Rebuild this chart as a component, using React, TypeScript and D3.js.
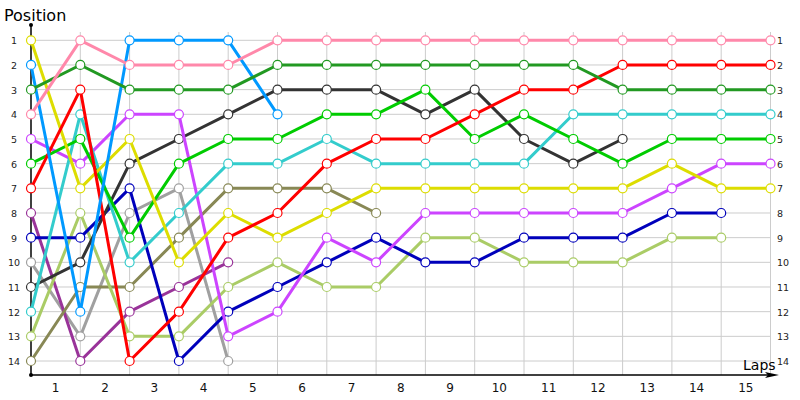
import * as d3 from "d3";
import React from "react";

// lap columns: 0 = grid, 1..15 = after each lap
const laps = d3.range(1, 16);
const positions = d3.range(1, 15);

const pink = [4, 1, 2, 2, 2, 1, 1, 1, 1, 1, 1, 1, 1, 1, 1, 1];
const darkGreen = [3, 2, 3, 3, 3, 2, 2, 2, 2, 2, 2, 2, 3, 3, 3, 3];
const lightBlue = [2, 12, 1, 1, 1, 4];
const yellow = [1, 7, 5, 10, 8, 9, 8, 7, 7, 7, 7, 7, 7, 6, 7, 7];
const red = [7, 3, 14, 12, 9, 8, 6, 5, 5, 4, 3, 3, 2, 2, 2, 2];
const cyan = [12, 4, 10, 8, 6, 6, 5, 6, 6, 6, 6, 4, 4, 4, 4, 4];
const green = [6, 5, 9, 6, 5, 5, 4, 4, 3, 5, 4, 5, 6, 5, 5, 5];
const violet = [5, 6, 4, 4, 13, 12, 9, 10, 8, 8, 8, 8, 8, 7, 6, 6];
const charcoal = [11, 10, 6, 5, 4, 3, 3, 3, 4, 3, 5, 6, 5];
const navy = [9, 9, 7, 14, 12, 11, 10, 9, 10, 10, 9, 9, 9, 8, 8];
const olive = [14, 11, 11, 9, 7, 7, 7, 8];
const lime = [13, 8, 13, 13, 11, 10, 11, 11, 9, 9, 10, 10, 10, 9, 9];
const grey = [10, 13, 8, 7, 14];
const plum = [8, 14, 12, 11, 10];

const series = [
  { values: grey, color: "#a0a0a0" },
  { values: plum, color: "#993399" },
  { values: olive, color: "#888855" },
  { values: lime, color: "#aacc66" },
  { values: navy, color: "#0000bb" },
  { values: charcoal, color: "#333333" },
  { values: violet, color: "#cc44ff" },
  { values: cyan, color: "#33cccc" },
  { values: green, color: "#00cc00" },
  { values: yellow, color: "#dddd00" },
  { values: red, color: "#ff0000" },
  { values: lightBlue, color: "#0099ff" },
  { values: darkGreen, color: "#229922" },
  { values: pink, color: "#ff88aa" },
];

const W = 800;
const H = 400;
const left = 31;
const right = 770.5;
const top = 40.3;
const bottom = 361;
const axisY = 375;

export default function App() {
  const x = d3.scaleLinear().domain([0, 15]).range([left, right]);
  const y = d3.scaleLinear().domain([1, 14]).range([top, bottom]);
  const line = d3
    .line<number>()
    .x((_, i) => x(i))
    .y((d) => y(d));

  const font = "'DejaVu Sans', Verdana, sans-serif";

  return (
    <div style={{ position: "fixed", left: 0, top: 0 }}>
      <svg width={W} height={H} style={{ display: "block", background: "#fff" }}>
        {/* grid */}
        {positions.map((p) => (
          <line key={"h" + p} x1={left} x2={right} y1={y(p)} y2={y(p)} stroke="#cccccc" />
        ))}
        {laps.map((l) => (
          <line key={"v" + l} x1={x(l)} x2={x(l)} y1={32} y2={axisY} stroke="#cccccc" />
        ))}

        {/* axes */}
        <line x1={left} x2={left} y1={25} y2={axisY} stroke="#000" strokeWidth={1.5} />
        <circle cx={left} cy={25} r={2} fill="#000" />
        <circle cx={left} cy={axisY} r={2} fill="#000" />
        <line x1={left} x2={770} y1={axisY} y2={axisY} stroke="#000" strokeWidth={1.5} />
        <path d={`M765,${axisY - 3} L779,${axisY} L765,${axisY + 3} L768,${axisY} Z`} fill="#000" />

        {/* labels */}
        <text x={4} y={21} fontFamily={font} fontSize={16}>Position</text>
        <text x={743} y={370} fontFamily={font} fontSize={14}>Laps</text>
        {positions.map((p) => (
          <text key={"l" + p} x={14} y={y(p) + 4} textAnchor="middle" fontFamily={font} fontSize={9.5} fill="#222">
            {p}
          </text>
        ))}
        {positions.map((p) => (
          <text key={"r" + p} x={777} y={y(p) + 4} fontFamily={font} fontSize={9.5} fill="#222">
            {p}
          </text>
        ))}
        {laps.map((l) => (
          <text key={"x" + l} x={x(l - 0.5)} y={392} textAnchor="middle" fontFamily={font} fontSize={12} fill="#111">
            {l}
          </text>
        ))}

        {/* series */}
        {series.map((s, i) => (
          <g key={i}>
            <path d={line(s.values) ?? ""} fill="none" stroke={s.color} strokeWidth={3} strokeLinejoin="round" />
            {s.values.map((v, j) => (
              <circle key={j} cx={x(j)} cy={y(v)} r={4.5} fill="#fff" stroke={s.color} strokeWidth={1.2} />
            ))}
          </g>
        ))}
      </svg>
    </div>
  );
}
